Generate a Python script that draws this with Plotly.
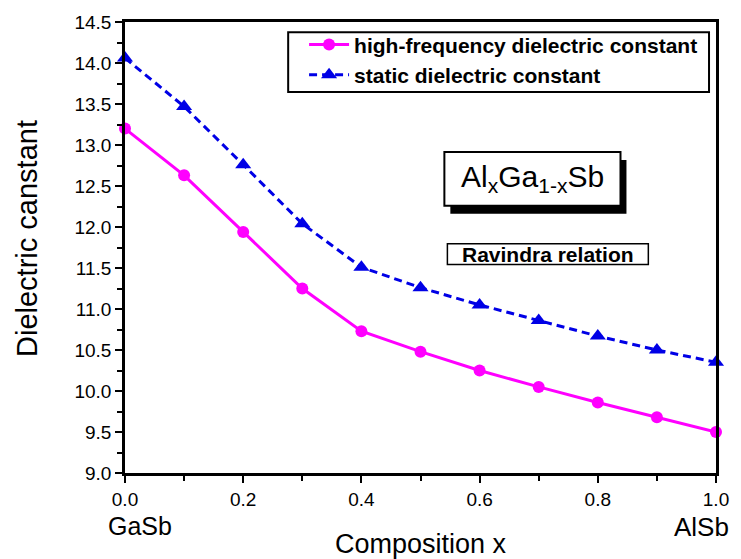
import plotly.graph_objects as go

# Composition x of Al in Al(x)Ga(1-x)Sb
composition = [0.0, 0.1, 0.2, 0.3, 0.4, 0.5, 0.6, 0.7, 0.8, 0.9, 1.0]
# Dielectric constants from the Ravindra relation
high_freq = [13.20, 12.63, 11.94, 11.25, 10.73, 10.48, 10.25, 10.05, 9.86, 9.68, 9.50]
static = [14.06, 13.47, 12.76, 12.04, 11.51, 11.26, 11.05, 10.86, 10.67, 10.50, 10.35]

x_ticks = [0.0, 0.2, 0.4, 0.6, 0.8, 1.0]
y_ticks = [9.0, 9.5, 10.0, 10.5, 11.0, 11.5, 12.0, 12.5, 13.0, 13.5, 14.0, 14.5]

FONT = "Liberation Sans, Arial, sans-serif"

fig = go.Figure()
fig.add_trace(go.Scatter(
    x=composition, y=high_freq, mode="lines+markers",
    name="<b>high-frequency dielectric constant</b>",
    line=dict(color="#FF00FF", width=3),
    marker=dict(symbol="circle", size=12, color="#FF00FF"),
    cliponaxis=False,
))
fig.add_trace(go.Scatter(
    x=composition, y=static, mode="lines+markers",
    name="<b>static dielectric constant</b>",
    line=dict(color="#0000E6", width=3, dash="8px,5px"),
    marker=dict(symbol="triangle-up", size=14, color="#0000E6"),
    cliponaxis=False,
))

axis_common = dict(
    showline=True, linecolor="black", linewidth=2.5, mirror=True,
    ticks="outside", tickcolor="black", tickwidth=2, ticklen=7,
    showgrid=False, zeroline=False,
    tickfont=dict(family=FONT, size=19, color="black"),
)

fig.update_xaxes(
    range=[0, 1], tickvals=x_ticks, ticktext=[f"{v:.1f}" for v in x_ticks],
    minor=dict(dtick=0.1, ticks="outside", ticklen=5, tickwidth=2, tickcolor="black"),
    **axis_common,
)
fig.update_yaxes(
    range=[9.0, 14.5], tickvals=y_ticks, ticktext=[f"{v:.1f}" for v in y_ticks],
    minor=dict(dtick=0.25, ticks="outside", ticklen=5, tickwidth=2, tickcolor="black"),
    **axis_common,
)

# frame around the legend entries
fig.add_shape(type="rect", xref="paper", yref="paper",
              x0=0.2761, x1=0.9882, y0=0.8446, y1=0.9772,
              fillcolor="white", line=dict(color="black", width=2), layer="above")

# shadowed label box for the alloy name
fig.add_shape(type="rect", xref="paper", yref="paper",
              x0=0.5505, x1=0.8485, y0=0.5748, y1=0.6942,
              fillcolor="black", line=dict(color="black", width=0), layer="above")
fig.add_shape(type="rect", xref="paper", yref="paper",
              x0=0.5404, x1=0.8384, y0=0.5925, y1=0.7119,
              fillcolor="white", line=dict(color="black", width=2), layer="above")
fig.add_annotation(xref="paper", yref="paper", x=0.6902, y=0.6522,
                   text="Al<sub>x</sub>Ga<sub>1-x</sub>Sb", showarrow=False,
                   font=dict(family=FONT, size=30, color="black"),
                   xanchor="center", yanchor="middle")

# method label box
fig.add_shape(type="rect", xref="paper", yref="paper",
              x0=0.5455, x1=0.8855, y0=0.4621, y1=0.5085,
              fillcolor="white", line=dict(color="black", width=1.5), layer="above")
fig.add_annotation(xref="paper", yref="paper", x=0.7155, y=0.4853,
                   text="<b>Ravindra relation</b>", showarrow=False,
                   font=dict(family=FONT, size=21, color="black"),
                   xanchor="center", yanchor="middle")

# end-member compounds under the axis ends
fig.add_annotation(xref="paper", yref="paper", x=0.025, y=-0.084,
                   text="GaSb", showarrow=False, borderpad=0,
                   font=dict(family=FONT, size=25, color="black"),
                   xanchor="center", yanchor="top")
fig.add_annotation(xref="paper", yref="paper", x=0.975, y=-0.084,
                   text="AlSb", showarrow=False, borderpad=0,
                   font=dict(family=FONT, size=26, color="black"),
                   xanchor="center", yanchor="top")

# axis titles
fig.add_annotation(xref="paper", yref="paper", x=0.5, y=-0.158,
                   text="Composition x", showarrow=False,
                   font=dict(family=FONT, size=27, color="black"),
                   xanchor="center", yanchor="middle")
fig.add_annotation(xref="paper", yref="paper", x=-0.165, y=0.52,
                   text="Dielectric canstant", showarrow=False, textangle=-90,
                   font=dict(family=FONT, size=29, color="black"),
                   xanchor="center", yanchor="middle")

fig.update_layout(
    width=741, height=559,
    margin=dict(l=125, r=22, t=21, b=86),
    paper_bgcolor="white", plot_bgcolor="white",
    showlegend=True,
    legend=dict(
        x=0.303, y=0.995, xanchor="left", yanchor="top",
        bgcolor="rgba(0,0,0,0)", borderwidth=0,
        font=dict(family=FONT, size=21, color="black"),
        itemwidth=40, tracegroupgap=0,
    ),
)

fig.write_html("out.html")
